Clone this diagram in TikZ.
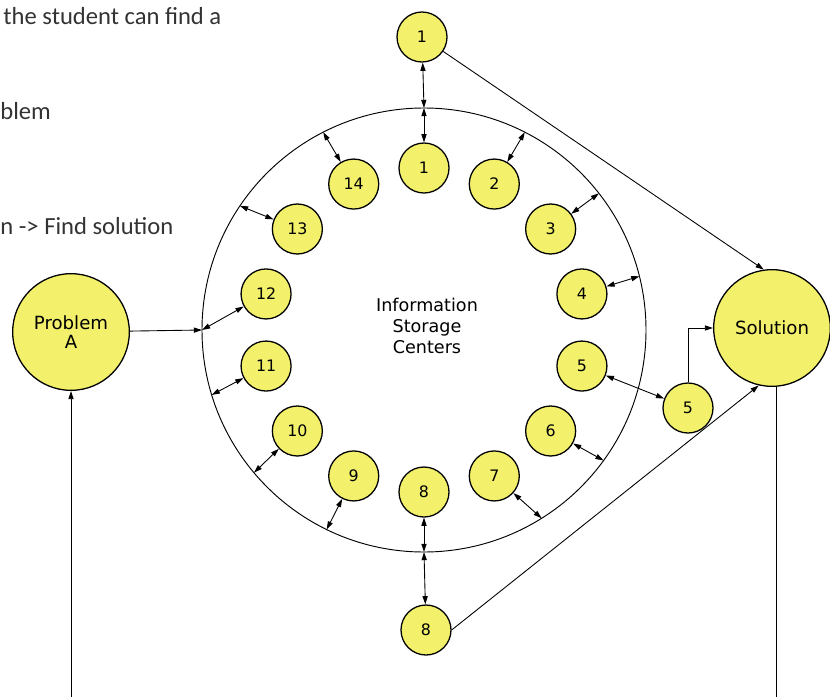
\documentclass[tikz,border=0pt]{standalone}
\usepackage{fontspec}
\setmainfont{DejaVu Sans}
\newfontfamily\notefont{Carlito}
\usetikzlibrary{arrows.meta,positioning,calc}
\definecolor{storeyellow}{RGB}{243,240,108}

\begin{document}
\begin{tikzpicture}[x=0.03cm,y=-0.03cm,line width=0.75pt]
			\tikzstyle{store} = [circle,draw,line width=1.1pt,fill=storeyellow,minimum size=1.5cm,inner sep=0pt,font=\fontsize{13.5}{14}\selectfont]
			\tikzstyle{bigstore} = [store,minimum size=3.5cm,align=center,font=\fontsize{15.5}{16}\selectfont]
			\tikzstyle{twoway} = [{Triangle[length=7pt,width=4.4pt]}-{Triangle[length=7pt,width=4.4pt]}]
			\tikzstyle{oneway} = [-{Triangle[length=7pt,width=4.4pt]}]
			\tikzstyle{note} = [anchor=base west,inner sep=0pt,text=black!80,font=\notefont\fontsize{21}{22}\selectfont]
			
			\useasboundingbox (0,0) rectangle (830,697);
			\coordinate (bot) at (0,697);
			
			% notes, cut off on the left
			\node [note] (n1) at (3,24) {the student can find a};
			\node [note] (n2) at (0,119) {blem};
			\node [note] (n3) at (0,234) {n -> Find solution};
			
			% storage ring
			\node [circle,draw,line width=0.8pt,minimum size=13.32cm,inner sep=0pt] (isc) at (424,330) {};
			\node [align=center,font=\fontsize{15}{18}\selectfont] (isctext) at (427,326) {Information\\Storage\\Centers};
			\foreach \k in {1,...,14}
				\node [store] (c\k) at ($(isc.center)+({(\k-1)*360/14-90}:162)$) {\k};
			
			\node [bigstore] (pa) at (71,332) {Problem\\A};
			\node [bigstore] (sol) at (772,328) {Solution};
			\node [store] (o1) at (422,37) {1};
			\node [store] (o5) at (688,408) {5};
			\node [store] (o8) at (426,630) {8};
			
			% points on the ring
			\foreach \k/\a in {1/-90,2/-63,3/-38,4/-14,6/36,7/58,8/90,9/116,10/140,11/163,13/-146,14/-117}
				\coordinate (p\k) at ($(isc.center)+(\a:222)$);
			\coordinate (hit) at ($(isc.center)+(180:222)$);
			
			\foreach \k in {1,2,3,4,6,7,8,9,10,11,13,14}
				\draw [twoway] (c\k) -- (p\k);
			\draw [twoway] (c12) -- (hit);
			\draw [twoway] (p1) -- (o1);
			\draw [twoway] (p8) -- (o8);
			\draw [twoway] (c5) -- (o5);
			
			\draw [oneway] (pa) -- (hit);
			\draw [oneway] (o1) -- (sol.98);
			\draw [oneway] (o8.east) -- (sol.-103);
			\draw [oneway] (o5.north) |- (sol.west);
			
			% feedback loop
			\draw (sol.-86) -- (sol.-86 |- bot);
			\draw [oneway] (pa.south |- bot) -- (pa.south);
			
\end{tikzpicture}
\end{document}
